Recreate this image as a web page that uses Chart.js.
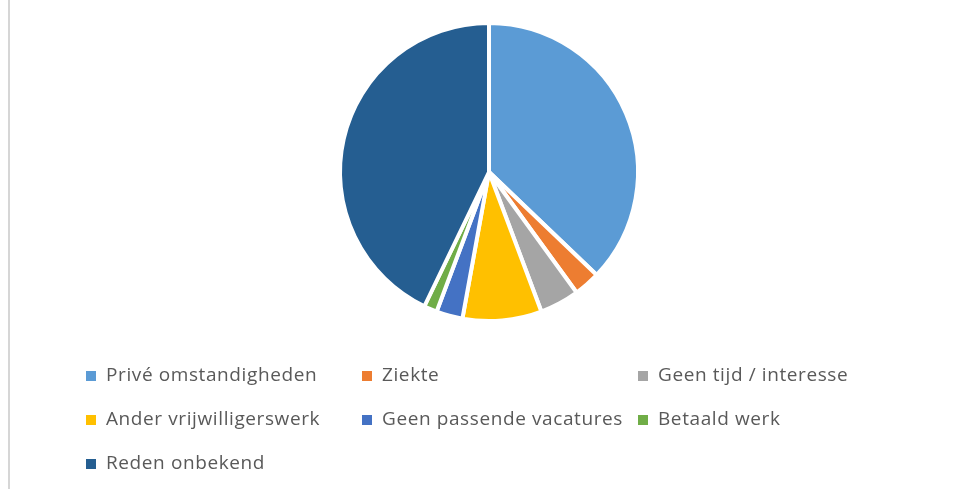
<!DOCTYPE html>
<html lang="nl">
<head>
    <meta charset="UTF-8">
    <title>Redenen vertrek</title>
    <script src="https://cdn.jsdelivr.net/npm/chart.js"></script>
    <style>
        body {
            margin: 0;
            background: #ffffff;
            font-family: 'Open Sans', sans-serif;
        }
        #wrap {
            position: relative;
            width: 959px;
            height: 489px;
            overflow: hidden;
        }
        #edge {
            position: absolute;
            left: 8px;
            top: 0;
            width: 2px;
            height: 489px;
            background: #d6d6d6;
        }
        #chart-box {
            position: absolute;
            left: 0;
            top: 0;
            width: 959px;
            height: 489px;
        }
        #legend {
            position: absolute;
            left: 86px;
            top: 352px;
            display: grid;
            grid-template-columns: 276px 276px 276px;
            grid-auto-rows: 44px;
            margin: 0;
            padding: 0;
            list-style: none;
        }
        #legend li {
            display: flex;
            align-items: center;
            color: #595959;
            font-size: 19px;
            letter-spacing: 0.6px;
            white-space: nowrap;
        }
        #legend .box {
            display: inline-block;
            width: 10px;
            height: 10px;
            margin-right: 10px;
            margin-top: 3px;
        }
    </style>
</head>
<body>
    <div id="wrap">
        <div id="edge"></div>
        <div id="chart-box"><canvas id="pieChart"></canvas></div>
        <ul id="legend"></ul>
    </div>

    <script>
        // aantallen per reden
        const categories = [
            'Privé omstandigheden',
            'Ziekte',
            'Geen tijd / interesse',
            'Ander vrijwilligerswerk',
            'Geen passende vacatures',
            'Betaald werk',
            'Reden onbekend'
        ];
        const counts = [26, 2, 3, 6, 2, 1, 30];
        const colors = ['#5B9BD5', '#ED7D31', '#A5A5A5', '#FFC000', '#4472C4', '#70AD47', '#255E91'];

        // legenda als HTML, in drie kolommen zoals in Excel
        const htmlLegend = {
            id: 'htmlLegend',
            afterUpdate(chart) {
                const ul = document.getElementById('legend');
                ul.innerHTML = '';
                const items = chart.options.plugins.legend.labels.generateLabels(chart);
                items.forEach(item => {
                    const li = document.createElement('li');
                    const box = document.createElement('span');
                    box.className = 'box';
                    box.style.background = item.fillStyle;
                    li.appendChild(box);
                    li.appendChild(document.createTextNode(item.text));
                    ul.appendChild(li);
                });
            }
        };

        const ctx = document.getElementById('pieChart').getContext('2d');
        new Chart(ctx, {
            type: 'pie',
            data: {
                labels: categories,
                datasets: [{
                    data: counts,
                    backgroundColor: colors,
                    borderColor: '#ffffff',
                    borderWidth: 4
                }]
            },
            options: {
                responsive: true,
                maintainAspectRatio: false,
                animation: false,
                layout: {
                    padding: { top: 21, bottom: 166, left: 19, right: 0 }
                },
                plugins: {
                    legend: { display: false },
                    tooltip: { enabled: false }
                }
            },
            plugins: [htmlLegend]
        });
    </script>
</body>
</html>
